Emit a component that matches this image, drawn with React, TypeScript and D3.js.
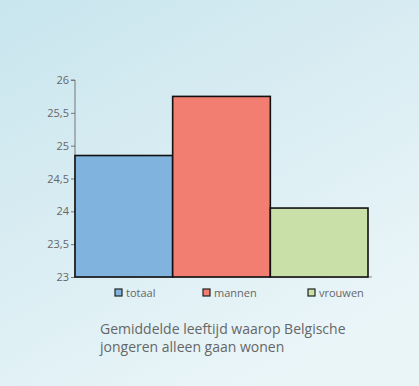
import React, { useEffect, useRef } from 'react'
import * as d3 from 'd3'

// gemiddelde leeftijd waarop jongeren alleen gaan wonen
const categories = ['totaal', 'mannen', 'vrouwen']
const values = [24.85, 25.75, 24.05]
const colors = ['#80b3de', '#f27e72', '#c9e0a9']
const yTicks = [23, 23.5, 24, 24.5, 25, 25.5, 26]
const titleLines = ['Gemiddelde leeftijd waarop Belgische', 'jongeren alleen gaan wonen']

const W = 419
const H = 386

export default function App () {
  const ref = useRef<SVGSVGElement>(null)

  useEffect(() => {
    const svg = d3.select(ref.current)
    svg.selectAll('*').remove()

    // background gradient
    const defs = svg.append('defs')
    const grad = defs.append('linearGradient')
      .attr('id', 'bg')
      .attr('x1', 0).attr('y1', 0).attr('x2', 0.6).attr('y2', 1)
    grad.append('stop').attr('offset', '0%').attr('stop-color', '#c8e5ed')
    grad.append('stop').attr('offset', '100%').attr('stop-color', '#eaf5f8')
    svg.append('rect').attr('width', W).attr('height', H).attr('fill', 'url(#bg)')

    const x = d3.scaleBand().domain(categories).range([75, 368]).padding(0)
    const y = d3.scaleLinear().domain([23, 26]).range([277, 80])

    // y axis
    const yAxis = d3.axisLeft(y)
      .tickValues(yTicks)
      .tickSize(4)
      .tickFormat(d => String(d).replace('.', ','))
    const ag = svg.append('g').attr('transform', 'translate(75,0)').call(yAxis)
    ag.select('.domain').attr('stroke', '#777').attr('d', 'M-4,80H0V277')
    ag.selectAll('.tick line').attr('stroke', '#777')
    ag.selectAll('.tick text')
      .attr('fill', '#666')
      .attr('font-size', 11)
      .attr('font-family', 'Open Sans, sans-serif')
      .attr('x', -6)

    // baseline
    svg.append('line')
      .attr('x1', 75).attr('x2', 372)
      .attr('y1', y(23)).attr('y2', y(23))
      .attr('stroke', '#888').attr('stroke-width', 1.2)

    // bars
    svg.selectAll('rect.bar')
      .data(values)
      .enter()
      .append('rect')
      .attr('class', 'bar')
      .attr('x', (d, i) => x(categories[i]))
      .attr('y', d => y(d))
      .attr('width', x.bandwidth())
      .attr('height', d => y(23) - y(d))
      .attr('fill', (d, i) => colors[i])
      .attr('stroke', '#111')
      .attr('stroke-width', 1.6)

    // legend
    const legendX = [115, 203, 308]
    const lg = svg.selectAll('g.legend')
      .data(categories)
      .enter()
      .append('g')
      .attr('class', 'legend')
      .attr('transform', (d, i) => 'translate(' + legendX[i] + ',293)')
    lg.append('rect')
      .attr('x', 0).attr('y', -4)
      .attr('width', 7).attr('height', 7)
      .attr('fill', (d, i) => colors[i])
      .attr('stroke', '#222').attr('stroke-width', 1.2)
    lg.append('text')
      .attr('x', 11).attr('y', 3.5)
      .attr('fill', '#666')
      .attr('font-size', 11)
      .attr('font-family', 'Open Sans, sans-serif')
      .text(d => d)

    // title
    svg.selectAll('text.title')
      .data(titleLines)
      .enter()
      .append('text')
      .attr('class', 'title')
      .attr('x', 100)
      .attr('y', (d, i) => 334 + i * 18)
      .attr('fill', '#666')
      .attr('font-size', 14)
      .attr('font-family', 'Open Sans, sans-serif')
      .text(d => d)
  }, [])

  return (
    <svg ref={ref} width={W} height={H}
      style={{ position: 'absolute', left: 0, top: 0, display: 'block' }} />
  )
}
